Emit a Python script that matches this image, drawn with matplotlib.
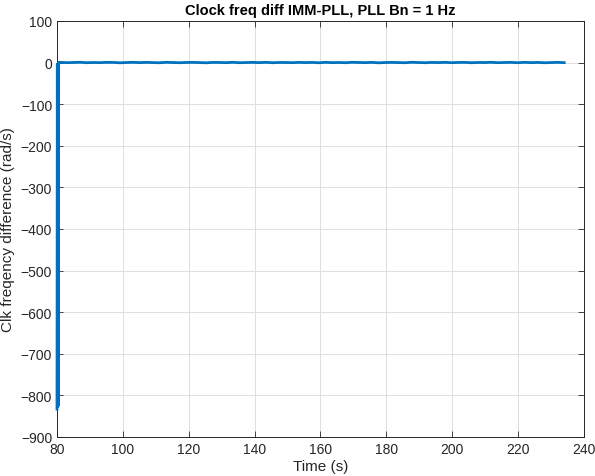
import numpy as np
import matplotlib.pyplot as plt

plt.rcParams["font.family"] = ["Liberation Sans", "DejaVu Sans"]

# start-up transient of the clock frequency difference (s, rad/s)
transient_t = [80.0, 80.1, 80.2, 80.3, 80.4, 80.5]
transient_df = [-833.0, -2.0, -830.0, -1.0, -826.0, 0.5]

# steady-state residual, sampled every 2 s from 81 s to 234 s
steady_t0, steady_t1 = 81.0, 234.0
steady_df = [
    0.5, -0.3, 0.2, 0.6, -0.4, 0.1, -0.2, 0.4, 0.3, -0.6,
    0.1, 0.5, -0.2, 0.4, -0.1, -0.5, 0.6, 0.0, -0.4, 0.2,
    0.4, -0.1, -0.6, 0.3, 0.2, -0.3, 0.6, -0.4, 0.0, 0.4,
    -0.2, 0.5, -0.5, 0.2, 0.1, -0.3, 0.4, -0.1, 0.3, -0.5,
    0.5, -0.2, 0.1, -0.4, 0.6, 0.2, -0.2, 0.4, -0.6, 0.0,
    0.4, -0.1, -0.4, 0.6, 0.1, -0.4, 0.3, -0.1, 0.5, -0.3,
    0.2, 0.4, -0.5, 0.2, 0.0, 0.6, -0.3, 0.1, 0.4, -0.4,
    0.5, -0.2, 0.3, -0.5, 0.0, 0.4, -0.2,
]

steady_t = np.linspace(steady_t0, steady_t1, len(steady_df))
t = np.concatenate([transient_t, steady_t])
df = np.concatenate([transient_df, steady_df])

fig = plt.figure(figsize=(5.95, 4.77), dpi=100)
ax = fig.add_axes([0.0958, 0.0818, 0.8857, 0.8722])

ax.plot(t, df, color="#0072BD", linewidth=2.0, solid_joinstyle="miter",
        clip_on=False, zorder=3)

ax.set_xlim(80, 240)
ax.set_ylim(-900, 100)
ax.set_xticks(np.arange(80, 241, 20))
ax.set_yticks(np.arange(-900, 101, 100))

ax.grid(True, color="#dfdfdf", linewidth=0.7)
ax.set_axisbelow(True)
for s in ax.spines.values():
    s.set_color("#262626")
    s.set_linewidth(0.7)
    s.set_zorder(2)
ax.tick_params(direction="in", length=4, width=0.6, color="#262626",
               labelsize=10, labelcolor="#262626", top=True, right=True)

ax.set_title("Clock freq diff IMM-PLL, PLL Bn = 1 Hz", fontsize=10.5,
             fontweight="bold", color="black", pad=5)
ax.set_xlabel("Time (s)", fontsize=11, color="#262626", labelpad=2)
ax.set_ylabel("Clk freqency difference (rad/s)", fontsize=11,
              color="#262626", labelpad=4)

fig.savefig("out.png", dpi=100)
